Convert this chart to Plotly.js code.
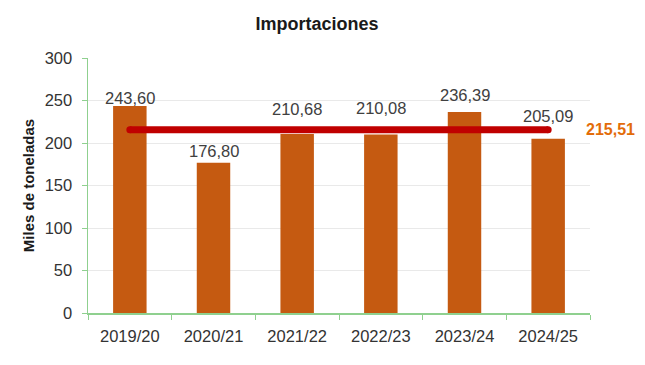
<!DOCTYPE html>
<html>
<head>
<meta charset="utf-8">
<script src="https://cdn.plot.ly/plotly-3.0.1.min.js"></script>
<style>html,body{margin:0;padding:0;background:#fff;}#chart{width:645px;height:365px;}</style>
</head>
<body>
<div id="chart"></div>
<script>
// Data
const categories = ["2019/20", "2020/21", "2021/22", "2022/23", "2023/24", "2024/25"];
const imports = [243.60, 176.80, 210.68, 210.08, 236.39, 205.09];
const labels = ["243,60", "176,80", "210,68", "210,08", "236,39", "205,09"];
const average = 215.51;
const averageLabel = "215,51";
const yTicks = [0, 50, 100, 150, 200, 250, 300];

// Style: vertical label offsets (px) above the bar tops
const labelShift = [8, 12, 25, 26, 17, 23];

const font = "Liberation Sans, Arial, sans-serif";

const bars = {
  type: "bar",
  x: categories,
  y: imports,
  marker: {color: "#c55a11"},
  width: 0.4,
  hoverinfo: "x+y",
  showlegend: false
};

const avgLine = {
  type: "scatter",
  mode: "lines+markers",
  x: [categories[0], categories[categories.length - 1]],
  y: [average, average],
  line: {color: "#c00000", width: 7},
  marker: {color: "#c00000", size: 7},
  hoverinfo: "y",
  showlegend: false
};

const annotations = categories.map((c, i) => ({
  x: c, y: imports[i], xref: "x", yref: "y",
  text: labels[i], showarrow: false,
  yanchor: "middle", yshift: labelShift[i],
  font: {family: font, size: 16.5, color: "#404040"}
}));
annotations.push({
  x: 1.04, xref: "paper", y: average, yref: "y",
  text: averageLabel, showarrow: false,
  xanchor: "center", yanchor: "middle",
  font: {family: font, size: 16, color: "#e36c09", weight: "bold"}
});

const layout = {
  width: 645, height: 365,
  margin: {l: 88, r: 55, t: 58, b: 52},
  paper_bgcolor: "#ffffff", plot_bgcolor: "#ffffff",
  font: {family: font, size: 16, color: "#333333"},
  title: {
    text: "Importaciones",
    x: 0.4915, xref: "container", xanchor: "center",
    y: 1 - 24 / 365, yref: "container", yanchor: "middle",
    font: {family: font, size: 18, color: "#1a1a1a", weight: "bold"}
  },
  xaxis: {
    type: "category",
    showline: true, linecolor: "#8fd08f", linewidth: 1.5,
    ticks: "outside", tickson: "boundaries", ticklen: 5, tickcolor: "#8fd08f",
    tickfont: {family: font, size: 16.5, color: "#333333"},
    ticklabelstandoff: 8,
    showgrid: false, zeroline: false, fixedrange: true
  },
  yaxis: {
    range: [0, 300],
    tickvals: yTicks,
    ticktext: yTicks.map(String),
    showline: true, linecolor: "#8fd08f", linewidth: 1.5,
    ticks: "outside", ticklen: 5, tickcolor: "#8fd08f",
    tickfont: {family: font, size: 16.5, color: "#333333"},
    ticklabelstandoff: 6,
    showgrid: true, gridcolor: "#e9e9e9", gridwidth: 1,
    zeroline: false, fixedrange: true,
    title: {
      text: "Miles de toneladas", standoff: 6,
      font: {family: font, size: 15, color: "#1a1a1a", weight: "bold"}
    }
  },
  annotations: annotations,
  bargap: 0.6
};

Plotly.newPlot("chart", [bars, avgLine], layout, {displayModeBar: false, staticPlot: true});
</script>
</body>
</html>
